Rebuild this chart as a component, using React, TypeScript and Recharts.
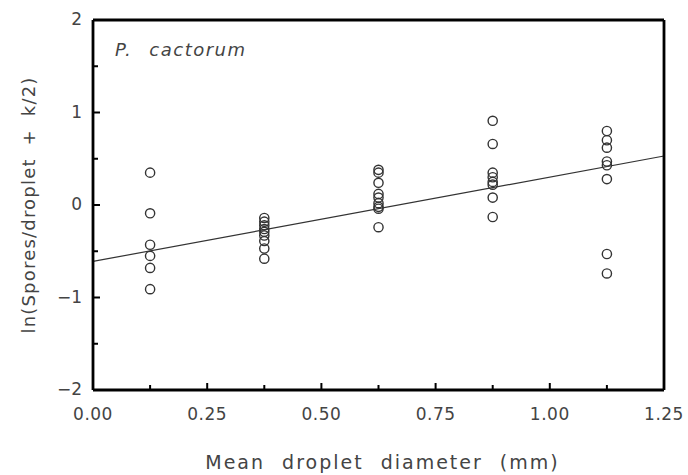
import { ScatterChart, Scatter, XAxis, YAxis, ReferenceLine, Label } from "recharts";

// diameter classes (mm) and ln(spores/droplet + k/2) read for each class
const diameters = [0.125, 0.375, 0.625, 0.875, 1.125];
const class1 = [0.35, -0.09, -0.43, -0.55, -0.68, -0.91];
const class2 = [-0.14, -0.18, -0.22, -0.26, -0.29, -0.33, -0.39, -0.47, -0.58];
const class3 = [0.38, 0.35, 0.24, 0.12, 0.08, 0.02, -0.02, -0.04, -0.24];
const class4 = [0.91, 0.66, 0.35, 0.3, 0.25, 0.22, 0.08, -0.13];
const class5 = [0.8, 0.7, 0.62, 0.47, 0.43, 0.28, -0.53, -0.74];

// fitted regression line end points
const fitLine = [
  { x: 0, y: -0.61 },
  { x: 1.25, y: 0.53 },
];

const xTicks = [0, 0.125, 0.25, 0.375, 0.5, 0.625, 0.75, 0.875, 1, 1.125, 1.25];
const yTicks = [-2, -1.5, -1, -0.5, 0, 0.5, 1, 1.5, 2];

const classes = [class1, class2, class3, class4, class5];
const points = classes.flatMap((vals, i) => vals.map((v) => ({ x: diameters[i], y: v })));

const FONT = "'DejaVu Sans', sans-serif";
const TEXT = "#444";

const isMultiple = (v: number, step: number) => Math.abs(v / step - Math.round(v / step)) < 1e-6;

function BottomTick({ x, y, payload }: any) {
  const major = isMultiple(payload.value, 0.25);
  return (
    <g>
      <line x1={x} x2={x} y1={y} y2={y - (major ? 7 : 5)} stroke="#000" strokeWidth={2} />
      {major && (
        <text x={x} y={y + 25} textAnchor="middle" dominantBaseline="middle" fontFamily={FONT} fontSize={17} letterSpacing={0.5} fill={TEXT}>
          {payload.value.toFixed(2)}
        </text>
      )}
    </g>
  );
}

function TopTick({ x, y, payload }: any) {
  const major = isMultiple(payload.value, 0.25);
  return <line x1={x} x2={x} y1={y} y2={y + (major ? 7 : 5)} stroke="#000" strokeWidth={2} />;
}

function LeftTick({ x, y, payload }: any) {
  const major = isMultiple(payload.value, 1);
  const v = payload.value;
  return (
    <g>
      <line x1={x} x2={x + (major ? 7 : 5)} y1={y} y2={y} stroke="#000" strokeWidth={2} />
      {major && (
        <text x={x - 11} y={y} textAnchor="end" dominantBaseline="middle" fontFamily={FONT} fontSize={17} fill={TEXT}>
          {v < 0 ? `\u2212${Math.abs(v)}` : `${v}`}
        </text>
      )}
    </g>
  );
}

function RightTick({ x, y, payload }: any) {
  const major = isMultiple(payload.value, 1);
  return <line x1={x} x2={x - (major ? 7 : 5)} y1={y} y2={y} stroke="#000" strokeWidth={2} />;
}

function XTitle({ viewBox }: any) {
  return (
    <text
      x={viewBox.x + viewBox.width / 2 + 4}
      y={viewBox.y + 73}
      textAnchor="middle"
      dominantBaseline="middle"
      fontFamily={FONT}
      fontSize={19}
      letterSpacing={2}
      wordSpacing={9}
      fill={TEXT}
    >
      Mean droplet diameter (mm)
    </text>
  );
}

function YTitle({ viewBox }: any) {
  const cy = viewBox.y + viewBox.height / 2;
  return (
    <text
      x={30}
      y={cy}
      transform={`rotate(-90, 30, ${cy})`}
      textAnchor="middle"
      dominantBaseline="middle"
      fontFamily={FONT}
      fontSize={18}
      letterSpacing={1.2}
      wordSpacing={6}
      fill={TEXT}
    >
      ln(Spores/droplet + k/2)
    </text>
  );
}

const Ring = (props: any) => (
  <circle cx={props.cx} cy={props.cy} r={4.6} fill="none" stroke="#333" strokeWidth={1.4} />
);

const frame = { stroke: "#000", strokeWidth: 2.8 };

export default function App() {
  return (
    <div style={{ position: "absolute", left: 0, top: 0, width: 688, height: 475, background: "#fff" }}>
      <ScatterChart width={688} height={475} margin={{ top: 19, right: 23, bottom: 84, left: 92 }}>
        <XAxis
          xAxisId="b"
          type="number"
          dataKey="x"
          orientation="bottom"
          domain={[0, 1.25]}
          ticks={xTicks}
          interval={0}
          height={1}
          tickSize={0}
          tickMargin={0}
          tickLine={false}
          axisLine={frame}
          tick={<BottomTick />}
        >
          <Label content={<XTitle />} />
        </XAxis>
        <XAxis
          xAxisId="t"
          type="number"
          dataKey="x"
          orientation="top"
          domain={[0, 1.25]}
          ticks={xTicks}
          interval={0}
          height={1}
          tickSize={0}
          tickMargin={0}
          tickLine={false}
          axisLine={frame}
          tick={<TopTick />}
        />
        <YAxis
          yAxisId="l"
          type="number"
          dataKey="y"
          orientation="left"
          domain={[-2, 2]}
          ticks={yTicks}
          interval={0}
          width={1}
          tickSize={0}
          tickMargin={0}
          tickLine={false}
          axisLine={frame}
          tick={<LeftTick />}
        >
          <Label content={<YTitle />} />
        </YAxis>
        <YAxis
          yAxisId="r"
          type="number"
          dataKey="y"
          orientation="right"
          domain={[-2, 2]}
          ticks={yTicks}
          interval={0}
          width={1}
          tickSize={0}
          tickMargin={0}
          tickLine={false}
          axisLine={frame}
          tick={<RightTick />}
        />
        <ReferenceLine xAxisId="b" yAxisId="l" segment={fitLine} stroke="#333" strokeWidth={1.2} />
        <Scatter xAxisId="b" yAxisId="l" data={points} shape={<Ring />} isAnimationActive={false} />
      </ScatterChart>
      <div
        style={{
          position: "absolute",
          left: 115,
          top: 39,
          fontFamily: FONT,
          fontStyle: "italic",
          fontSize: 18,
          letterSpacing: 1.5,
          wordSpacing: 10,
          color: TEXT,
        }}
      >
        P. cactorum
      </div>
    </div>
  );
}
